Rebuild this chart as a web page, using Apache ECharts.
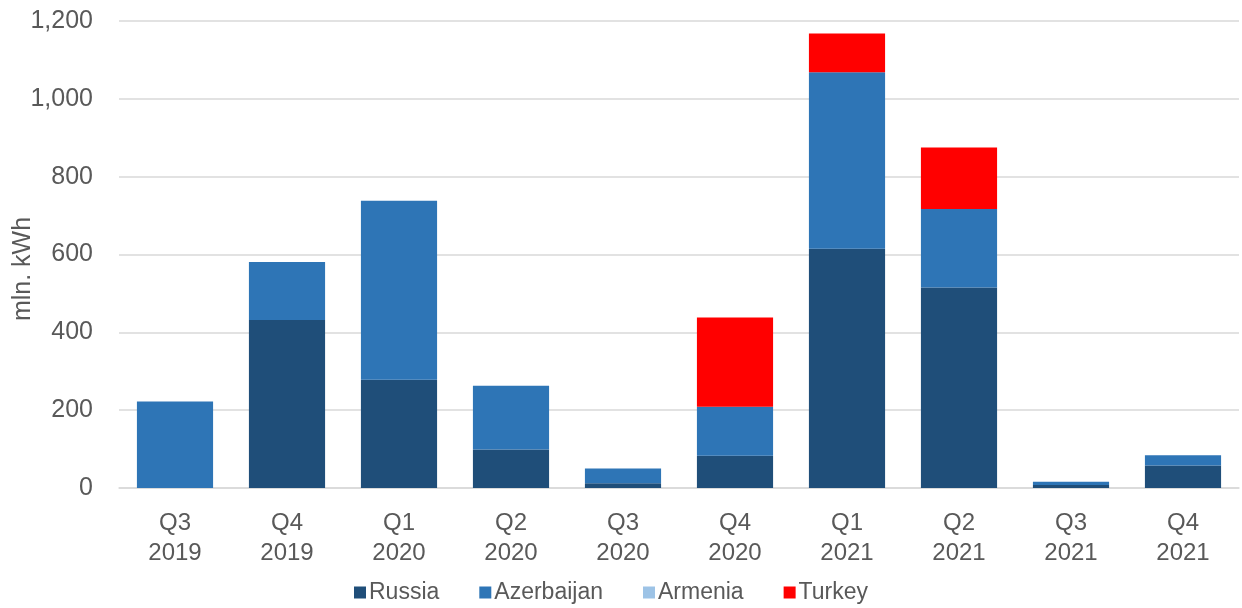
<!DOCTYPE html>
<html><head><meta charset="utf-8">
<script src="https://cdn.jsdelivr.net/npm/echarts@6/dist/echarts.min.js"></script>
<style>html,body{margin:0;padding:0;background:#fff}#c{width:1242px;height:608px}</style>
</head><body><div id="c"></div>
<script>
const categories = ['Q3\n2019','Q4\n2019','Q1\n2020','Q2\n2020','Q3\n2020','Q4\n2020','Q1\n2021','Q2\n2021','Q3\n2021','Q4\n2021'];
const russia     = [0, 432, 278, 99, 12, 83, 615, 515, 8, 58];
const azerbaijan = [222, 149, 460, 164, 38, 126, 453, 202, 8, 26];
const armenia    = [0, 0, 0, 0, 0, 0, 0, 0, 0, 0];
const turkey     = [0, 0, 0, 0, 0, 229, 100, 158, 0, 0];
const yTicks = [0, 200, 400, 600, 800, 1000, 1200];

const font = 'Liberation Sans, Arial, sans-serif';
const txt = '#595959';
const chart = echarts.init(document.getElementById('c'));
function s(name, data, color){
  return {name, type:'bar', stack:'t', data, barWidth:'68%',
    itemStyle:{color}, emphasis:{disabled:true}};
}
chart.setOption({
  animation:false,
  grid:{left:119, right:3, top:21, bottom:120, containLabel:false},
  legend:{top:576, left:349, itemWidth:12, itemHeight:12, itemGap:40,
    icon:'rect', textStyle:{color:txt, fontFamily:font, fontSize:23, padding:[0,0,0,-2]},
    data:['Russia','Azerbaijan','Armenia','Turkey']},
  xAxis:{type:'category', data:categories,
    axisLine:{lineStyle:{color:'#D9D9D9', width:1.5}}, axisTick:{show:false},
    axisLabel:{color:txt, fontFamily:font, fontSize:24, lineHeight:29.5, margin:21}},
  yAxis:{type:'value', min:yTicks[0], max:yTicks[yTicks.length-1], interval:200,
    axisLine:{show:false}, axisTick:{show:false},
    splitLine:{lineStyle:{color:'#D9D9D9', width:1.5}},
    axisLabel:{color:txt, fontFamily:font, fontSize:25, margin:26,
      formatter:v=>v.toLocaleString('en-US')}},
  graphic:[{type:'text', x:23, y:269, rotation:Math.PI/2,
    style:{text:'mln. kWh', fill:txt, font:'25px '+font, textAlign:'center', textVerticalAlign:'middle'}}],
  series:[s('Russia',russia,'#1F4E79'), s('Azerbaijan',azerbaijan,'#2E75B6'),
          s('Armenia',armenia,'#9DC3E6'), s('Turkey',turkey,'#FF0000')]
});
</script></body></html>
